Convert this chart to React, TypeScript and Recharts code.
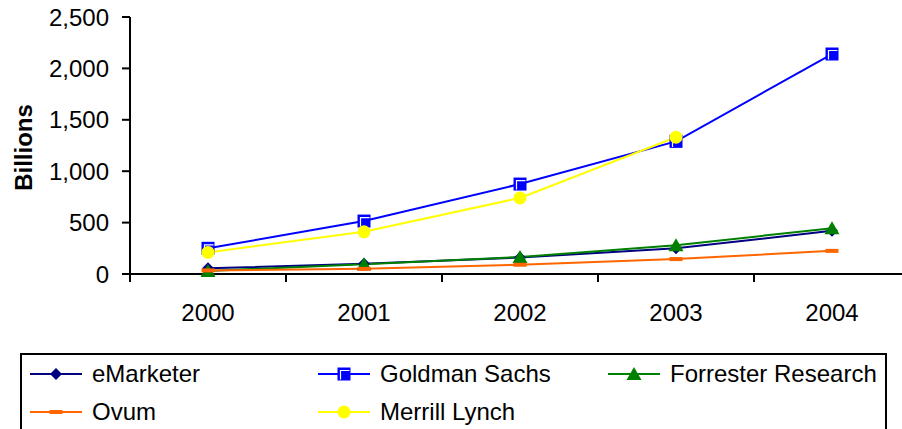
import { LineChart, Line, XAxis, YAxis } from "recharts";

const years = ["2000", "2001", "2002", "2003", "2004"];
const eMarketer = [55, 100, 160, 250, 420];
const goldmanSachs = [250, 515, 875, 1290, 2140];
const forresterResearch = [30, 95, 165, 280, 445];
const ovum = [35, 50, 90, 145, 225];
const merrillLynch = [210, 410, 740, 1330, null];
const yTicks = [0, 500, 1000, 1500, 2000, 2500];

const FONT = '"Liberation Sans", Arial, sans-serif';

const series = [
  { key: "eMarketer", color: "#000080", marker: "diamond" },
  { key: "Goldman Sachs", color: "#0000FF", marker: "square" },
  { key: "Forrester Research", color: "#008000", marker: "triangle" },
  { key: "Ovum", color: "#FF6600", marker: "dash" },
  { key: "Merrill Lynch", color: "#FFFF00", marker: "circle" },
];

const data = years.map((year, i) => ({
  year,
  eMarketer: eMarketer[i],
  "Goldman Sachs": goldmanSachs[i],
  "Forrester Research": forresterResearch[i],
  Ovum: ovum[i],
  "Merrill Lynch": merrillLynch[i],
}));

function MarkerShape({ kind, cx, cy }: { kind: string; cx: number; cy: number }) {
  switch (kind) {
    case "diamond":
      return <polygon points={`${cx},${cy - 6} ${cx + 6},${cy} ${cx},${cy + 6} ${cx - 6},${cy}`} fill="#000080" />;
    case "square":
      return (
        <g>
          <rect x={cx - 6.5} y={cy - 6.5} width={13} height={13} fill="#0000FF" />
          <path d={`M${cx - 3.5} ${cy + 5.5}V${cy - 3.5}H${cx + 5.5}`} stroke="#fff" strokeWidth={1.2} fill="none" />
        </g>
      );
    case "triangle":
      return <polygon points={`${cx},${cy - 7} ${cx + 7.5},${cy + 6} ${cx - 7.5},${cy + 6}`} fill="#008000" />;
    case "dash":
      return <rect x={cx - 6.5} y={cy - 2} width={13} height={4} fill="#FF6600" />;
    default:
      return <circle cx={cx} cy={cy} r={6.5} fill="#FFFF00" />;
  }
}

const makeDot = (kind: string) => (props: any) => {
  const { cx, cy, index } = props;
  if (cx == null || cy == null || props.value == null || (Array.isArray(props.value) && props.value[1] == null)) {
    return <g key={`${kind}-${index}`} />;
  }
  return (
    <g key={`${kind}-${index}`}>
      <MarkerShape kind={kind} cx={cx} cy={cy} />
    </g>
  );
};

// category label centred in its band, tick marks on the band boundaries (Excel style)
function YearTick(props: any) {
  const { x, y, payload, index, visibleTicksCount, width } = props;
  const half = payload && payload.offset ? payload.offset : width / visibleTicksCount / 2;
  const isLast = index === visibleTicksCount - 1;
  return (
    <g>
      <line x1={x - half} y1={y} x2={x - half} y2={y + 8} stroke="#000" strokeWidth={2} />
      {isLast && <line x1={x + half} y1={y} x2={x + half} y2={y + 8} stroke="#000" strokeWidth={2} />}
      <text x={x} y={y + 30} dy="0.71em" textAnchor="middle" fontFamily={FONT} fontSize={24} fill="#000">
        {payload.value}
      </text>
    </g>
  );
}

function YLabel(props: any) {
  const vb = props.viewBox;
  const x = 32;
  const y = vb.y + vb.height / 2 + 2;
  return (
    <text x={x} y={y} transform={`rotate(-90, ${x}, ${y})`} textAnchor="middle" fontFamily={FONT} fontSize={24} fontWeight="bold" fill="#000">
      Billions
    </text>
  );
}

function LegendBox() {
  const cols = [8, 296, 586];
  const rows = [4, 42];
  return (
    <div
      style={{
        position: "absolute",
        left: 20,
        top: 353,
        width: 867,
        height: 120,
        border: "2px solid #000",
        boxSizing: "border-box",
        fontFamily: FONT,
        fontSize: 24,
        color: "#000",
      }}
    >
      {series.map((s, i) => (
        <div
          key={s.key}
          style={{
            position: "absolute",
            left: cols[i % 3],
            top: rows[Math.floor(i / 3)],
            height: 30,
            display: "flex",
            alignItems: "center",
            whiteSpace: "nowrap",
          }}
        >
          <svg width={52} height={16} style={{ display: "block" }}>
            <line x1={0} y1={8} x2={52} y2={8} stroke={s.color} strokeWidth={2} />
            <MarkerShape kind={s.marker} cx={26} cy={8} />
          </svg>
          <span style={{ marginLeft: 10 }}>{s.key}</span>
        </div>
      ))}
    </div>
  );
}

export default function App() {
  return (
    <div style={{ position: "absolute", left: 0, top: 0, width: 902, height: 429, overflow: "hidden", background: "#fff" }}>
      <LineChart width={920} height={345} data={data} margin={{ top: 17, right: 10, left: 0, bottom: 21 }}>
        <XAxis
          dataKey="year"
          type="category"
          scale="band"
          axisLine={{ stroke: "#000", strokeWidth: 2 }}
          tickLine={false}
          tickSize={0}
          tickMargin={0}
          height={50}
          tick={<YearTick />}
          interval={0}
        />
        <YAxis
          width={130}
          domain={[0, 2500]}
          ticks={yTicks}
          interval={0}
          axisLine={{ stroke: "#000", strokeWidth: 2 }}
          tickLine={{ stroke: "#000", strokeWidth: 2 }}
          tickSize={8}
          tickMargin={13}
          tick={{ fill: "#000", fontSize: 24, fontFamily: FONT }}
          tickFormatter={(v: number) => v.toLocaleString("en-US")}
          label={<YLabel />}
        />
        {series.map((s) => (
          <Line
            key={s.key}
            dataKey={s.key}
            stroke={s.color}
            strokeWidth={2}
            type="linear"
            dot={makeDot(s.marker)}
            activeDot={false}
            isAnimationActive={false}
          />
        ))}
      </LineChart>
      <LegendBox />
    </div>
  );
}
